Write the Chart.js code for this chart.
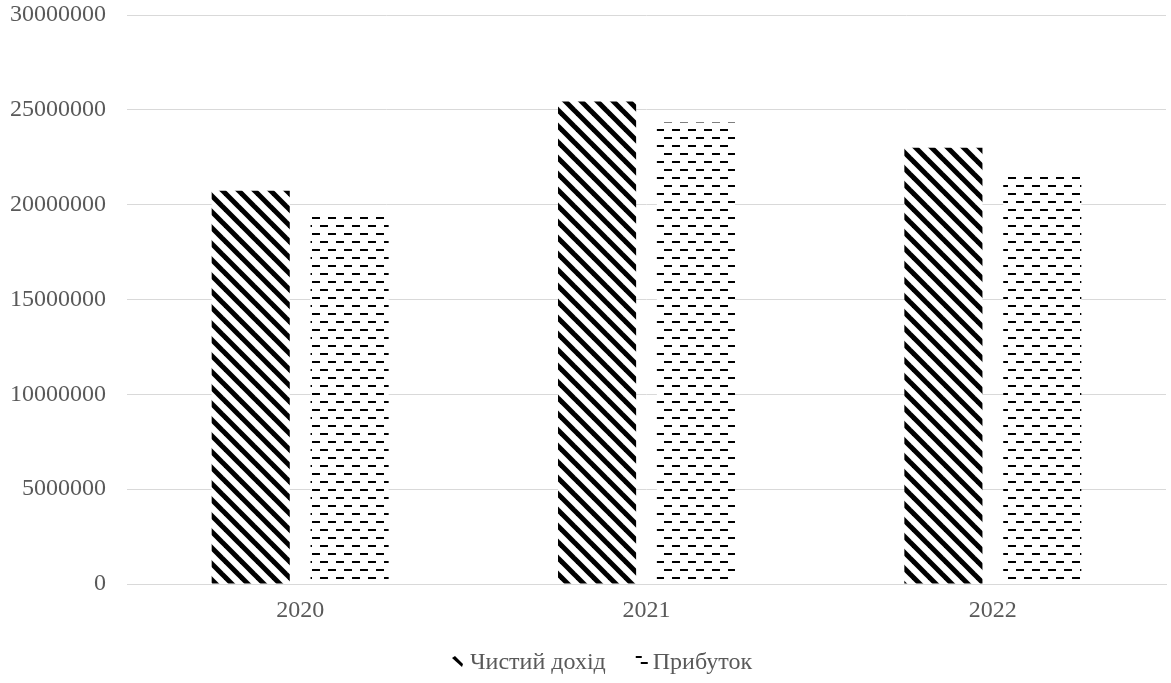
<!DOCTYPE html>
<html>
<head>
<meta charset="utf-8">
<script src="https://cdn.jsdelivr.net/npm/chart.js@4.4.1/dist/chart.umd.min.js"></script>
<style>
  html, body { margin: 0; padding: 0; background: #ffffff; }
  #wrap { width: 1171px; height: 683px; }
</style>
</head>
<body>
<div id="wrap"><canvas id="chart" width="1171" height="683"></canvas></div>
<script>
// Years on the category axis
const years = ['2020', '2021', '2022'];
// Series values
const netIncome = [20730000, 25440000, 23000000];
const profit = [19570000, 24330000, 21680000];
// Series names
const seriesNames = ['Чистий дохід', 'Прибуток'];
// Value axis ticks
const yTicks = [0, 5000000, 10000000, 15000000, 20000000, 25000000, 30000000];

const FONT = "'Liberation Serif', 'Times New Roman', serif";
const TEXT = '#595959';
const GRID = '#d9d9d9';

// Wide downward diagonal hatch
function diagonalPattern() {
  const c = document.createElement('canvas');
  c.width = 16; c.height = 16;
  const g = c.getContext('2d');
  g.fillStyle = '#ffffff';
  g.fillRect(0, 0, 16, 16);
  g.strokeStyle = '#000000';
  g.lineWidth = 5;
  for (let x = -16; x <= 16; x += 16) {
    g.beginPath();
    g.moveTo(x - 2, -2);
    g.lineTo(x + 18, 18);
    g.stroke();
  }
  return g.createPattern(c, 'repeat');
}

// Dashed horizontal hatch
function dashPattern() {
  const c = document.createElement('canvas');
  c.width = 16; c.height = 16;
  const g = c.getContext('2d');
  g.fillStyle = '#ffffff';
  g.fillRect(0, 0, 16, 16);
  g.fillStyle = '#000000';
  g.fillRect(0, 1, 8, 2);
  g.fillRect(8, 9, 8, 2);
  return g.createPattern(c, 'repeat');
}

// Legend key glyphs, drawn at (x, y) = top-left of a 14x14 cell
function drawGlyphDiag(g, x, y) {
  g.fillStyle = '#000000';
  g.beginPath();
  g.moveTo(x + 0, y + 3);
  g.lineTo(x + 3, y + 1);
  g.lineTo(x + 11, y + 9);
  g.lineTo(x + 10, y + 12);
  g.closePath();
  g.fill();
}
function drawGlyphDash(g, x, y) {
  g.fillStyle = '#000000';
  g.fillRect(x + 1, y + 1, 6, 2);
  g.fillRect(x + 6, y + 7, 7, 2);
}
const glyphs = [drawGlyphDiag, drawGlyphDash];

// Bottom legend: key glyph followed by the series name
const bottomLegend = {
  id: 'bottomLegend',
  afterDraw(chart) {
    const g = chart.ctx;
    const opts = chart.options.plugins.bottomLegend;
    g.save();
    g.font = '24px ' + FONT;
    g.fillStyle = TEXT;
    g.textBaseline = 'middle';
    g.textAlign = 'left';
    let x = opts.startX;
    const y = opts.centerY;
    chart.data.datasets.forEach((ds, i) => {
      glyphs[i](g, x, y - 8);
      x += opts.keyGap;
      g.fillStyle = TEXT;
      g.fillText(ds.label, x, y);
      x += g.measureText(ds.label).width + opts.itemGap;
    });
    g.restore();
  }
};

const ctx = document.getElementById('chart').getContext('2d');

new Chart(ctx, {
  type: 'bar',
  data: {
    labels: years,
    datasets: [
      {
        label: seriesNames[0],
        data: netIncome,
        backgroundColor: diagonalPattern(),
        borderWidth: 0,
        categoryPercentage: 0.571,
        barPercentage: 0.79
      },
      {
        label: seriesNames[1],
        data: profit,
        backgroundColor: dashPattern(),
        borderWidth: 0,
        categoryPercentage: 0.571,
        barPercentage: 0.79
      }
    ]
  },
  plugins: [bottomLegend],
  options: {
    responsive: false,
    animation: false,
    devicePixelRatio: 1,
    layout: { padding: { top: 0, right: 5, left: 0, bottom: 44 } },
    plugins: {
      tooltip: { enabled: false },
      legend: { display: false },
      bottomLegend: { startX: 452, centerY: 663, keyGap: 18, itemGap: 29 }
    },
    scales: {
      x: {
        grid: { display: false },
        border: { display: true, color: GRID, width: 1 },
        ticks: {
          color: TEXT,
          font: { family: FONT, size: 24 },
          padding: 4
        },
        afterFit(scale) { scale.height = 55; }
      },
      y: {
        min: 0,
        max: 30000000,
        afterBuildTicks(scale) {
          scale.ticks = yTicks.map(v => ({ value: v }));
        },
        grid: { color: GRID, lineWidth: 1, drawTicks: false },
        border: { display: false },
        ticks: {
          color: TEXT,
          font: { family: FONT, size: 24 },
          padding: 21,
          callback: v => String(v)
        },
        afterFit(scale) {
          scale.width = 127;
          scale.paddingTop = 15;
          scale.paddingBottom = 0;
        }
      }
    }
  }
});
</script>
</body>
</html>
